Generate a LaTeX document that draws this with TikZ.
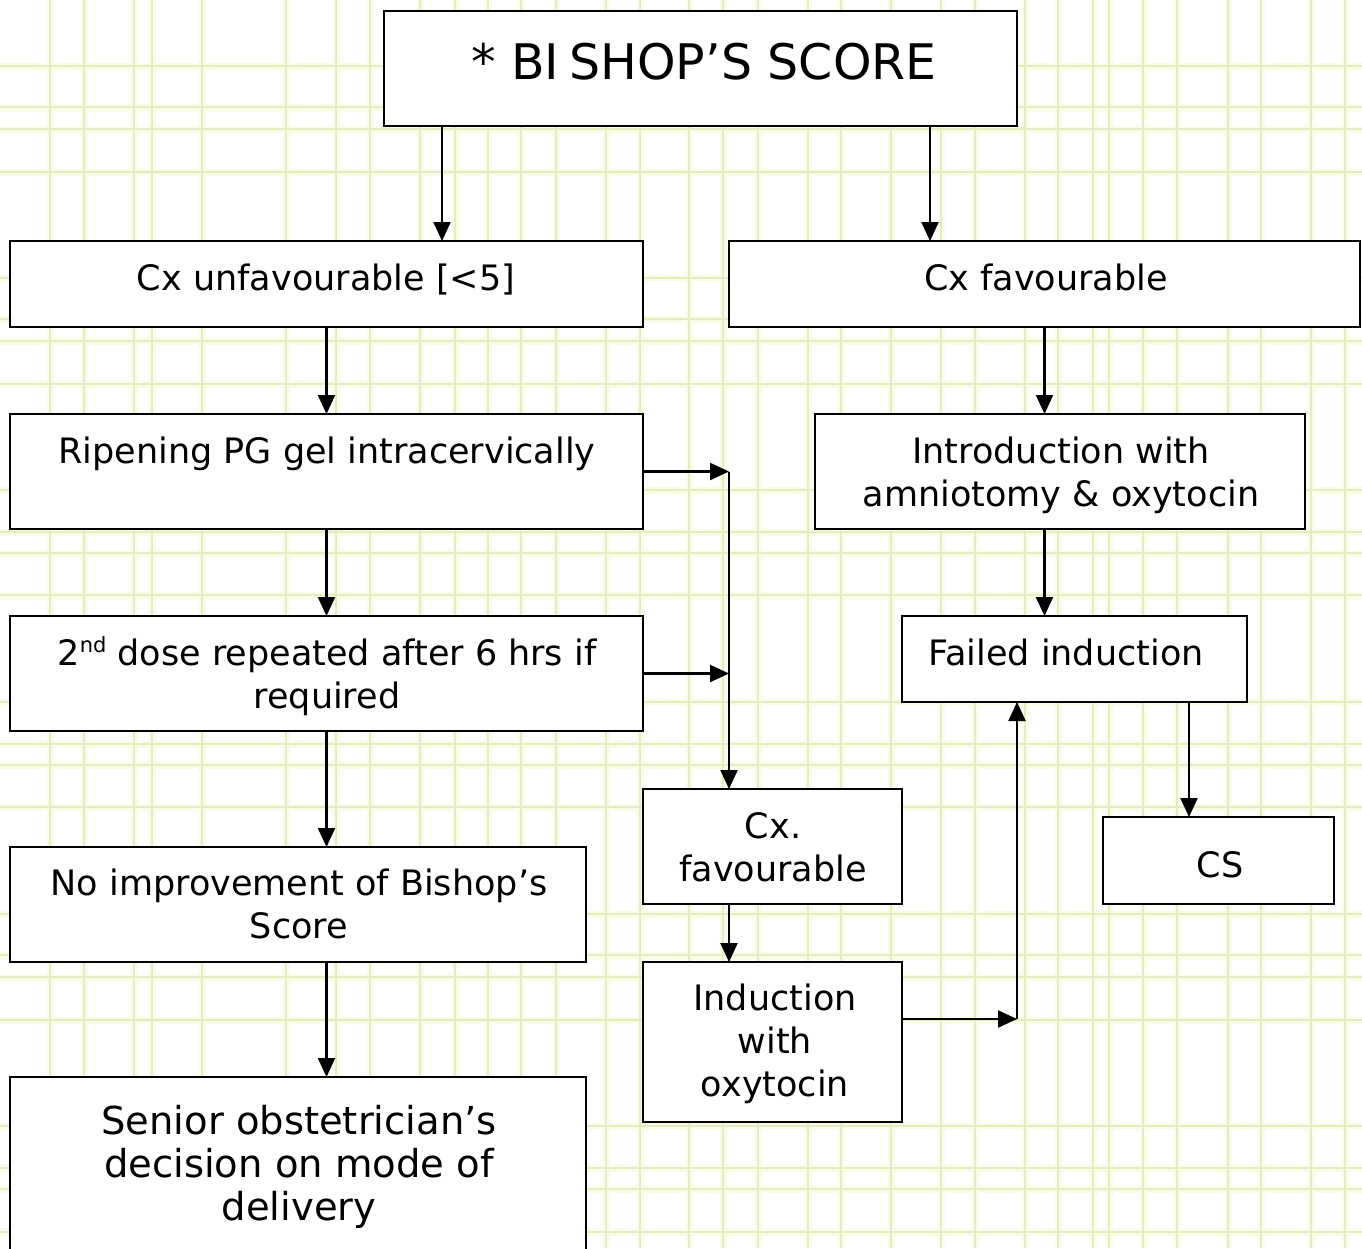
\documentclass[tikz,border=0pt]{standalone}
\usepackage{fontspec}
\setmainfont{DejaVu Sans}
\usetikzlibrary{arrows.meta}
\definecolor{gridglow}{RGB}{249,252,230}
\definecolor{gridline}{RGB}{228,236,192}
\begin{document}
\begin{tikzpicture}[x=1pt,y=-1pt,
  box/.style={draw=black, line width=2.5pt, fill=white, rectangle,
    inner sep=0pt, outer sep=0pt, anchor=north west},
  lbl/.style={font=\fontsize{35}{43}\selectfont, align=center,
    inner sep=0pt, anchor=base},
  arr/.style={line width=2.2pt, -{Triangle[length=19pt,width=17pt]}}
]
\useasboundingbox (0,0) rectangle (1362,1248);
\fill[white] (0,0) rectangle (1362,1248);

% plaid paper background
\begin{scope}
  \clip (0,0) rectangle (1362,1248);
  \foreach \gx in {50,84,134,152,202,286,336,370,420,455,488,521,556,606,640,
                   689,723,758,808,841,891,941,975,1025,1058,1093,1109,1143,
                   1177,1228,1261,1311,1345}
    \draw[gridglow, line width=7pt] (\gx,0) -- (\gx,1248);
  \foreach \gy in {66,107,129,172,278,319,341,384,490,532,553,595,
                   702,744,765,807,914,955,977,1020,1126,1168,1189,1232}
    \draw[gridglow, line width=7pt] (0,\gy) -- (1362,\gy);
  \foreach \gx in {50,84,134,152,202,286,336,370,420,455,488,521,556,606,640,
                   689,723,758,808,841,891,941,975,1025,1058,1093,1109,1143,
                   1177,1228,1261,1311,1345}
    \draw[gridline, line width=1.2pt] (\gx,0) -- (\gx,1248);
  \foreach \gy in {66,107,129,172,278,319,341,384,490,532,553,595,
                   702,744,765,807,914,955,977,1020,1126,1168,1189,1232}
    \draw[gridline, line width=1.2pt] (0,\gy) -- (1362,\gy);
\end{scope}

% boxes
\node[box, minimum width=633pt, minimum height=115pt] (title)  at (384,11)   {};
\node[box, minimum width=633pt, minimum height=86pt]  (cun)    at (10,241)   {};
\node[box, minimum width=631pt, minimum height=86pt]  (cfav)   at (729,241)  {};
\node[box, minimum width=633pt, minimum height=115pt] (rip)    at (10,414)   {};
\node[box, minimum width=490pt, minimum height=115pt] (intro)  at (815,414)  {};
\node[box, minimum width=633pt, minimum height=115pt] (dose)   at (10,616)   {};
\node[box, minimum width=345pt, minimum height=86pt]  (failed) at (902,616)  {};
\node[box, minimum width=259pt, minimum height=115pt] (cxf)    at (643,789)  {};
\node[box, minimum width=231pt, minimum height=87pt]  (cs)     at (1103,817) {};
\node[box, minimum width=576pt, minimum height=115pt] (noimp)  at (10,847)   {};
\node[box, minimum width=259pt, minimum height=160pt] (indox)  at (643,962)  {};
\node[box, minimum width=576pt, minimum height=190pt] (senior) at (10,1077)  {};

% texts (anchored on the baseline of the last line)
\node[lbl, font=\fontsize{49}{55}\selectfont] (titleT) at (704,79) {* BI\kern10pt SHOP’S SCORE};
\node[lbl] (cunT)    at (326,290)  {Cx unfavourable [<5]};
\node[lbl] (cfavT)   at (1046,290) {Cx favourable};
\node[lbl] (ripT)    at (327,463)  {Ripening PG gel intracervically};
\node[lbl] (introT)  at (1061,506) {Introduction with\\amniotomy \& oxytocin};
\node[lbl] (doseT)   at (327,708)  {2\raisebox{13pt}{\fontsize{21}{21}\selectfont nd} dose repeated after 6 hrs if\\required};
\node[lbl] (failedT) at (1066,665) {Failed induction};
\node[lbl] (cxfT)    at (773,881)  {Cx.\\favourable};
\node[lbl] (csT)     at (1220,877) {CS};
\node[lbl] (noimpT)  at (299,938)  {No improvement of Bishop’s\\Score};
\node[lbl] (indoxT)  at (775,1096) {Induction\\with\\oxytocin};
\node[lbl, font=\fontsize{38.5}{43}\selectfont] (seniorT) at (299,1220)
  {Senior obstetrician’s\\decision on mode of\\delivery};

% connector guides
\coordinate (xA) at (442,0);
\coordinate (xB) at (930,0);
\coordinate (xC) at (1189,0);
\coordinate (jR) at (729,471.5);
\coordinate (jF) at (1017,1019);

% connectors
\draw[arr] (title.south -| xA) -- (cun.north -| xA);
\draw[arr] (title.south -| xB) -- (cfav.north -| xB);
\draw[arr] (cun.south) -- (rip.north);
\draw[arr] (cfav.south) -- (intro.north -| cfav.south);
\draw[arr] (rip.south) -- (dose.north);
\draw[arr] (intro.south -| cfav.south) -- (failed.north -| cfav.south);
\draw[arr] (dose.south) -- (noimp.north -| dose.south);
\draw[arr] (noimp.south -| dose.south) -- (senior.north -| dose.south);
\draw[arr] (rip.east) -- (jR);
\draw[arr] (dose.east) -- (dose.east -| jR);
\draw[arr] (jR) -- (cxf.north -| jR);
\draw[arr] (cxf.south -| jR) -- (indox.north -| jR);
\draw[arr] (indox.east |- jF) -- (jF);
\draw[arr] (jF) -- (failed.south -| jF);
\draw[arr] (failed.south -| xC) -- (cs.north -| xC);
\end{tikzpicture}
\end{document}
